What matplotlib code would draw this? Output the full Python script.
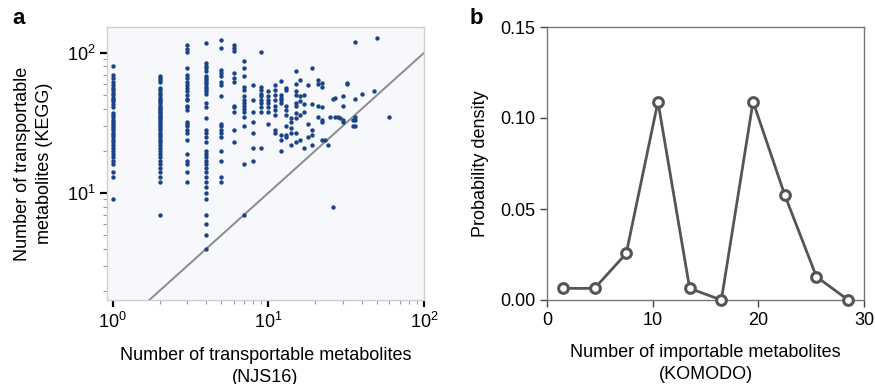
import numpy as np
import matplotlib
matplotlib.use('Agg')
import matplotlib.pyplot as plt
from matplotlib.ticker import LogLocator, NullFormatter

plt.rcParams['font.family'] = ['Liberation Sans', 'DejaVu Sans']
plt.rcParams['mathtext.fontset'] = 'custom'
plt.rcParams['mathtext.rm'] = 'Liberation Sans'

# DATOS PANEL a: METABOLITOS TRANSPORTABLES (NJS16 vs KEGG), UNA LISTA POR VALOR DE NJS16
kegg_njs1 = [81, 69, 66, 62, 59, 56, 54, 52, 50, 48, 46, 45, 43, 41, 37, 36, 35, 33, 32,
             31, 30, 29, 28, 27, 26, 25, 24, 23, 22, 21, 20, 19, 18, 17, 16, 14, 13, 9]
kegg_njs2 = [68, 66, 64, 62, 56, 54, 52, 50, 48, 46, 45, 44, 42, 41, 40, 39, 38, 37, 36,
             35, 34, 33, 32, 31, 30, 29, 28, 27, 26, 25, 24, 23, 22, 21, 20, 19, 18, 17,
             16, 15, 14, 13, 12, 7]
kegg_njs3 = [113, 107, 102, 78, 70, 66, 62, 59, 56, 53, 50, 47, 46, 42, 41, 39, 32, 31,
             30, 28, 27, 24, 19, 17, 16, 14, 12]
kegg_njs4 = [117, 84, 81, 78, 74, 68, 66, 64, 62, 60, 57, 55, 53, 51, 44, 41, 34, 28, 27,
             25, 23, 20, 19, 18, 17, 16, 15, 14, 13, 12, 11, 10, 9, 7, 6, 5, 4]
kegg_njs5 = [124, 109, 76, 72, 68, 62, 59, 49, 31, 30, 28, 27, 25, 20, 17, 13, 12]
kegg_njs6 = [114, 109, 103, 72, 66, 62, 42, 41, 38, 28, 23]
kegg_njs7 = [87, 78, 68, 57, 54, 49, 46, 44, 42, 40, 38, 35, 30, 16, 7]
kegg_njs8 = [59, 46, 38, 32, 27, 21, 17]
kegg_njs9 = [102, 57, 54, 51, 49, 46, 44, 41, 38, 21]
kegg_njs10 = [53, 49, 46, 44, 41, 38, 31]

# PUNTOS DISPERSOS (NJS16 > 10)
njs_resto = [11, 11, 11, 11, 11, 11, 11, 11, 11,
             12, 12, 12, 12, 12, 12, 12, 12,
             13, 13, 13, 13, 13, 13, 13, 13,
             14, 14, 14, 14, 14,
             15, 15, 15, 15, 15, 15, 15, 15, 15, 15,
             16, 16, 16, 16, 16,
             17, 17, 17, 17,
             18, 18, 18,
             19, 19, 19, 19, 19,
             21, 21, 21, 21,
             22, 22, 22, 22, 22, 22,
             23, 24, 25, 26, 26, 27, 27, 28, 29,
             30, 30, 30, 30, 32, 32, 35, 35,
             36, 36, 36, 36, 36, 40, 48, 50, 60]
kegg_resto = [59, 54, 50, 46, 42, 39, 36, 28, 27,
              63, 50, 48, 46, 44, 26, 24, 20,
              56, 54, 42, 39, 36, 30, 26, 25,
              34, 32, 29, 27, 22,
              74, 60, 53, 50, 44, 42, 37, 34, 27, 23,
              64, 49, 45, 36, 24,
              50, 43, 38, 21,
              59, 31, 25,
              78, 43, 28, 26, 22,
              64, 60, 42, 35,
              61, 57, 41, 33, 32, 24,
              24, 22, 35, 47, 8, 48, 35, 35, 34,
              49, 42, 33, 32, 61, 60, 33, 30,
              120, 47, 35, 33, 30, 51, 53, 127, 35]

# DATOS PANEL b: DENSIDAD DE METABOLITOS IMPORTABLES (KOMODO)
komodo_centros = [1.5, 4.5, 7.5, 10.5, 13.5, 16.5, 19.5, 22.5, 25.5, 28.5]
komodo_densidad = [0.0064, 0.0064, 0.0256, 0.109, 0.0064, 0.0, 0.109, 0.0577, 0.0128, 0.0]

# FIGURA
fig = plt.figure(figsize=(8.75, 3.84), dpi=100)

# PANEL a
ax1 = fig.add_axes([107 / 875, 84 / 384, 317 / 875, 273 / 384])
ax1.set_facecolor('#f6f8fc')
columnas = [kegg_njs1, kegg_njs2, kegg_njs3, kegg_njs4, kegg_njs5,
            kegg_njs6, kegg_njs7, kegg_njs8, kegg_njs9, kegg_njs10]
xs, ys = [], []
for i, col in enumerate(columnas):
    xs += [i + 1] * len(col)
    ys += col
xs += njs_resto
ys += kegg_resto
ax1.scatter(xs, ys, s=10, color='#1a4388', linewidths=0, zorder=3)

ax1.set_xscale('log')
ax1.set_yscale('log')
ax1.set_xlim(0.92, 100)
ax1.set_ylim(1.72, 153)
diag = np.array([0.5, 200])
ax1.plot(diag, diag, color='#8c8c8c', linewidth=1.4, zorder=2)

for s in ax1.spines.values():
    s.set_color('#cfcfcf')
    s.set_linewidth(1)
ax1.set_xticks([1, 10, 100])
ax1.set_yticks([10, 100])
ax1.set_xticklabels(['$10^0$', '$10^1$', '$10^2$'])
ax1.set_yticklabels(['$10^1$', '$10^2$'])
ax1.xaxis.set_minor_locator(LogLocator(base=10, subs=np.arange(2, 10)))
ax1.yaxis.set_minor_locator(LogLocator(base=10, subs=np.arange(2, 10)))
ax1.xaxis.set_minor_formatter(NullFormatter())
ax1.yaxis.set_minor_formatter(NullFormatter())
ax1.tick_params(which='major', length=5, width=1.6, color='black', labelsize=13)
ax1.tick_params(which='minor', length=3, width=0.8, color='#999999')
ax1.set_xlabel('Number of transportable metabolites\n(NJS16)', fontsize=13,
               labelpad=11, linespacing=1.35)
ax1.set_ylabel('Number of transportable\nmetabolites (KEGG)', fontsize=13,
               labelpad=10, linespacing=1.35)

# PANEL b
ax2 = fig.add_axes([547 / 875, 84 / 384, 317 / 875, 273 / 384])
ax2.plot(komodo_centros, komodo_densidad, color='#555555', linewidth=2,
         marker='o', markersize=7, markerfacecolor='white',
         markeredgecolor='#555555', markeredgewidth=2.2, clip_on=False, zorder=3)
ax2.set_xlim(0, 30)
ax2.set_ylim(0, 0.15)
ax2.set_xticks([0, 10, 20, 30])
ax2.set_yticks([0, 0.05, 0.10, 0.15])
ax2.set_yticklabels(['0.00', '0.05', '0.10', '0.15'])
for s in ax2.spines.values():
    s.set_color('#777777')
    s.set_linewidth(1)
ax2.tick_params(length=5, width=1, color='#444444', labelsize=13)
ax2.set_xlabel('Number of importable metabolites\n(KOMODO)', fontsize=13,
               labelpad=11, linespacing=1.35)
ax2.set_ylabel('Probability density', fontsize=13, labelpad=8)

# ETIQUETAS DE PANEL
fig.text(12 / 875, 1 - 19 / 384, 'a', fontsize=16, fontweight='bold', va='center')
fig.text(470 / 875, 1 - 19 / 384, 'b', fontsize=16, fontweight='bold', va='center')

fig.savefig('out.png', dpi=100)
